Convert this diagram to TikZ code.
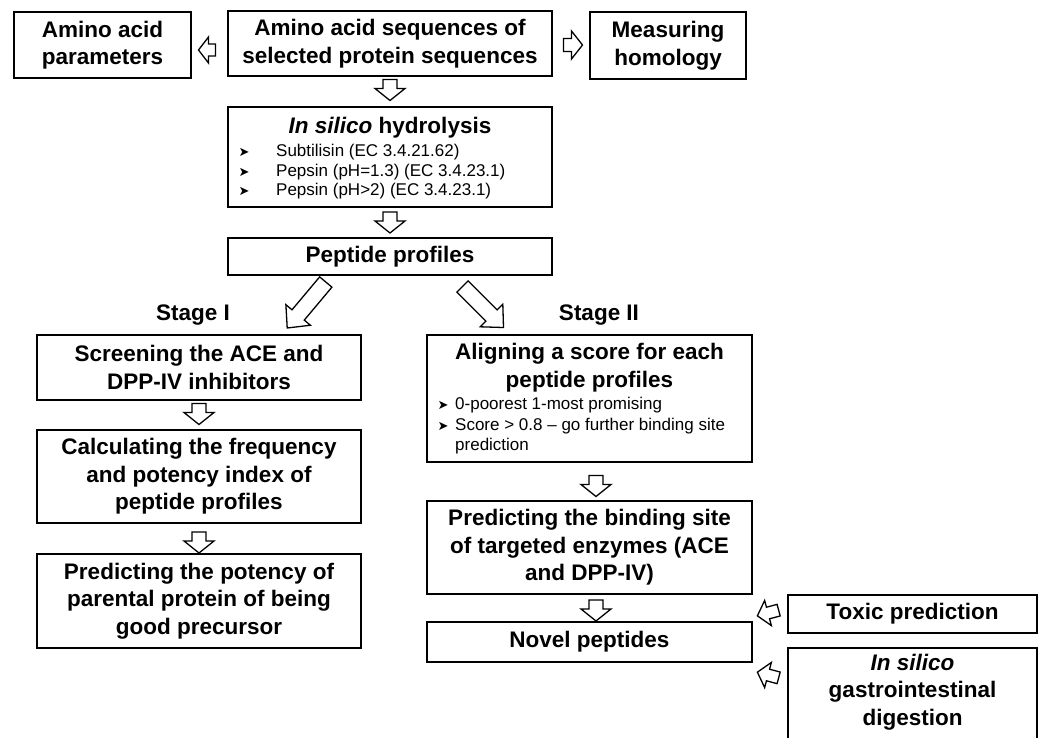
\documentclass[tikz,border=0pt]{standalone}
\usepackage{fontspec}
\setmainfont{Liberation Sans}
\newfontfamily\dejavu{DejaVu Sans}
\tikzset{
  box/.style={draw=black, line width=1.6pt, fill=white, inner sep=2pt, align=center,
    font=\fontsize{22.5}{27.5}\selectfont\bfseries},
  lbl/.style={inner sep=0pt, align=center, font=\fontsize{22.5}{27.5}\selectfont\bfseries},
  smalltxt/.style={inner sep=0pt, anchor=west, font=\fontsize{17}{20}\selectfont},
  bul/.style={inner sep=0pt, font=\dejavu\fontsize{13}{13}\selectfont},
  arrowline/.style={draw=black, line width=1.3pt, fill=white, line join=miter},
}
% hollow block arrow: #1 centre, #2 direction angle, #3 length, #4 head width, #5 shaft width, #6 head length
\newcommand\blockarr[6]{%
  \draw[arrowline, shift={#1}, rotate=#2]
    ({-#3/2},{-#5/2}) -- ({#3/2-#6},{-#5/2}) -- ({#3/2-#6},{-#4/2}) -- ({#3/2},0)
    -- ({#3/2-#6},{#4/2}) -- ({#3/2-#6},{#5/2}) -- ({-#3/2},{#5/2}) -- cycle;}
\begin{document}
\begin{tikzpicture}[x=1pt,y=-1pt]
\useasboundingbox (0,0) rectangle (1039,737);
\clip (0,0) rectangle (1039,737);
\fill[white] (0,0) rectangle (1039,737);

% top row
\node[box, minimum width=177pt, minimum height=66pt] (aap) at (102.5,45) {Amino acid\\parameters};
\node[box, minimum width=324pt, minimum height=65pt] (seq) at (390,43.5) {Amino acid sequences of\\selected protein sequences};
\node[box, minimum width=156pt, minimum height=67pt] (hom) at (668,45.5) {Measuring\\homology};
\blockarr{(207,50)}{180}{17}{26}{12}{10}
\blockarr{(573,45)}{0}{19}{28}{13}{11}

% hydrolysis
\blockarr{(390,90)}{270}{21}{30}{14}{12}
\node[box, minimum width=324pt, minimum height=100pt] (hyd) at (390,157) {};
\node[lbl] (hydt) at (390,128) {\textit{In silico} hydrolysis};
\node[bul] (hb1) at (244,152) {➤};
\node[bul] (hb2) at (244,172) {➤};
\node[bul] (hb3) at (244,191) {➤};
\node[smalltxt] (h1) at (276,152) {Subtilisin (EC 3.4.21.62)};
\node[smalltxt] (h2) at (276,172) {Pepsin (pH=1.3) (EC 3.4.23.1)};
\node[smalltxt] (h3) at (276,191) {Pepsin (pH>2) (EC 3.4.23.1)};

\blockarr{(390,222.5)}{270}{21}{30}{14}{12}
\node[box, minimum width=324pt, minimum height=37pt] (pep) at (390,256.5) {Peptide profiles};

% diagonal arrows
\blockarr{(306.5,305)}{230}{60}{32}{16}{17}
\blockarr{(483,307)}{315}{58}{32}{16}{17}
\node[lbl] (st1) at (193,315) {Stage I};
\node[lbl] (st2) at (599,315) {Stage II};

% stage I
\node[box, minimum width=324pt, minimum height=65pt] (scr) at (199,367.5) {Screening the ACE and\\DPP-IV inhibitors};
\blockarr{(199,414)}{270}{21}{30}{14}{12}
\node[box, minimum width=324pt, minimum height=93pt] (calc) at (199,476.5) {Calculating the frequency\\and potency index of\\peptide profiles};
\blockarr{(199,542.5)}{270}{21}{30}{14}{12}
\node[box, minimum width=324pt, minimum height=94pt] (pot) at (199,601) {Predicting the potency of\\parental protein of being\\good precursor};

% stage II
\node[box, minimum width=325pt, minimum height=127pt] (ali) at (589.5,398.5) {};
\node[lbl] (alit) at (589.5,367.5) {Aligning a score for each\\peptide profiles};
\node[bul] (ab1) at (443,405) {➤};
\node[bul] (ab2) at (443,426) {➤};
\node[smalltxt] (al1) at (455,405) {0-poorest 1-most promising};
\node[smalltxt] (al2) at (455,426) {Score > 0.8 – go further binding site};
\node[smalltxt] (al3) at (455,446) {prediction};

\blockarr{(596,486)}{270}{21}{30}{14}{12}
\node[box, minimum width=325pt, minimum height=93pt] (bind) at (589.5,547.5) {Predicting the binding site\\of targeted enzymes (ACE\\and DPP-IV)};
\blockarr{(596,610.5)}{270}{21}{30}{14}{12}
\node[box, minimum width=325pt, minimum height=40pt] (nov) at (589.5,642) {Novel peptides};

% right bottom
\node[box, minimum width=249pt, minimum height=38pt] (tox) at (912.5,614) {Toxic prediction};
\node[box, minimum width=249pt, minimum height=110pt, anchor=north] (gibox) at (912.5,647) {};
\node[lbl] (gi) at (912.5,692) {\textit{In silico}\\gastrointestinal\\digestion};
\blockarr{(768,613)}{195}{22}{26}{12}{11}
\blockarr{(768,675)}{165}{22}{26}{12}{11}
\end{tikzpicture}
\end{document}
